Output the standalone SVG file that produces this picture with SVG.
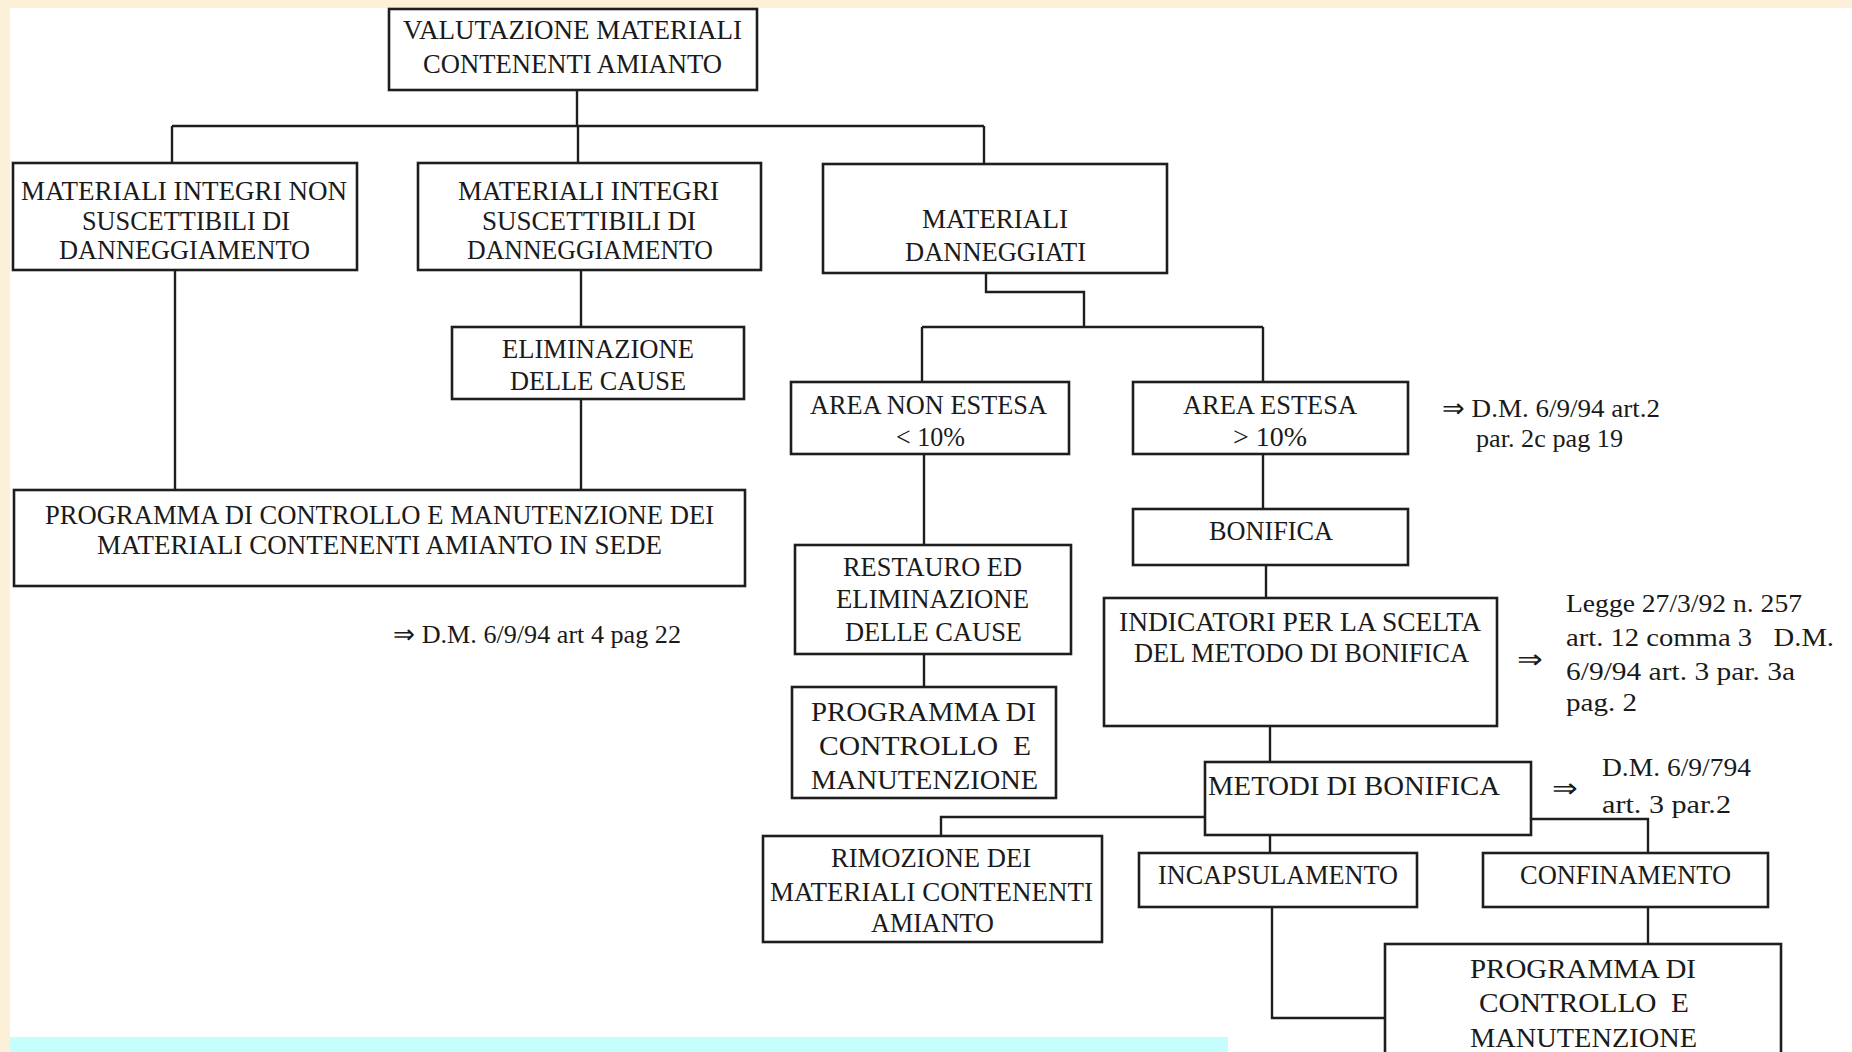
<svg xmlns="http://www.w3.org/2000/svg" width="1852" height="1052" viewBox="0 0 1852 1052">
<style>
.bx{fill:#ffffff;stroke:#1e1e1e;stroke-width:2.6}
.t{font-family:"Liberation Serif","Times New Roman",serif;font-size:28px;fill:#1a1a1a;white-space:pre}
.a{font-family:"Liberation Serif","Times New Roman",serif;font-size:26px;fill:#1a1a1a;white-space:pre}
.ln{fill:none;stroke:#1e1e1e;stroke-width:2.4}
</style>
<rect x="0" y="0" width="1852" height="1052" fill="#ffffff"/>
<rect x="0" y="0" width="1852" height="8" fill="#fcf0d8"/>
<rect x="0" y="0" width="10" height="1052" fill="#fcf0d8"/>
<rect x="10" y="1037" width="1218" height="15" fill="#c6fdfd"/>

<g id="connectors" class="ln">
<path d="M577,90 V126 M172,126 H984 M172,126 V163 M578,126 V163 M984,126 V164"/>
<path d="M175,270 V490"/>
<path d="M581,270 V327 M581,399 V490"/>
<path d="M986,273 V292 H1084 V327 M922,327 H1263 M922,327 V382 M1263,327 V382"/>
<path d="M1263,454 V509"/>
<path d="M924,454 V545 M924,654 V687"/>
<path d="M1266,565 V598"/>
<path d="M1270,726 V762"/>
<path d="M1205,817 H941 V836"/>
<path d="M1270,835 V853"/>
<path d="M1531,819 H1648 V853"/>
<path d="M1648,907 V944"/>
<path d="M1272,907 V1018 H1385"/>
</g>

<g id="n-valutazione">
<rect class="bx" x="389" y="9" width="368" height="81"/>
<text class="t" x="403" y="39" textLength="339" lengthAdjust="spacingAndGlyphs">VALUTAZIONE MATERIALI</text>
<text class="t" x="423" y="73" textLength="299" lengthAdjust="spacingAndGlyphs">CONTENENTI AMIANTO</text>
</g>

<g id="n-integri-non">
<rect class="bx" x="13" y="163" width="344" height="107"/>
<text class="t" x="21" y="200" textLength="326" lengthAdjust="spacingAndGlyphs">MATERIALI INTEGRI NON</text>
<text class="t" x="82" y="230" textLength="208" lengthAdjust="spacingAndGlyphs">SUSCETTIBILI DI</text>
<text class="t" x="59" y="259" textLength="251" lengthAdjust="spacingAndGlyphs">DANNEGGIAMENTO</text>
</g>

<g id="n-integri">
<rect class="bx" x="418" y="163" width="343" height="107"/>
<text class="t" x="458" y="200" textLength="261" lengthAdjust="spacingAndGlyphs">MATERIALI INTEGRI</text>
<text class="t" x="482" y="230" textLength="214" lengthAdjust="spacingAndGlyphs">SUSCETTIBILI DI</text>
<text class="t" x="467" y="259" textLength="246" lengthAdjust="spacingAndGlyphs">DANNEGGIAMENTO</text>
</g>

<g id="n-danneggiati">
<rect class="bx" x="823" y="164" width="344" height="109"/>
<text class="t" x="922" y="228" textLength="146" lengthAdjust="spacingAndGlyphs">MATERIALI</text>
<text class="t" x="905" y="261" textLength="181" lengthAdjust="spacingAndGlyphs">DANNEGGIATI</text>
</g>

<g id="n-eliminazione">
<rect class="bx" x="452" y="327" width="292" height="72"/>
<text class="t" x="502" y="358" textLength="192" lengthAdjust="spacingAndGlyphs">ELIMINAZIONE</text>
<text class="t" x="510" y="390" textLength="176" lengthAdjust="spacingAndGlyphs">DELLE CAUSE</text>
</g>

<g id="n-programma-sede">
<rect class="bx" x="14" y="490" width="731" height="96"/>
<text class="t" x="45" y="524" textLength="669" lengthAdjust="spacingAndGlyphs">PROGRAMMA DI CONTROLLO E MANUTENZIONE DEI</text>
<text class="t" x="97" y="554" textLength="565" lengthAdjust="spacingAndGlyphs">MATERIALI CONTENENTI AMIANTO IN SEDE</text>
</g>
<text class="a" x="393" y="643" textLength="288" lengthAdjust="spacingAndGlyphs">⇒ D.M. 6/9/94 art 4 pag 22</text>

<g id="n-area-non-estesa">
<rect class="bx" x="791" y="382" width="278" height="72"/>
<text class="t" x="810" y="414" textLength="237" lengthAdjust="spacingAndGlyphs">AREA NON ESTESA</text>
<text class="t" x="896" y="446" textLength="69" lengthAdjust="spacingAndGlyphs">&lt; 10%</text>
</g>

<g id="n-area-estesa">
<rect class="bx" x="1133" y="382" width="275" height="72"/>
<text class="t" x="1183" y="414" textLength="174" lengthAdjust="spacingAndGlyphs">AREA ESTESA</text>
<text class="t" x="1233" y="446" textLength="74" lengthAdjust="spacingAndGlyphs">&gt; 10%</text>
</g>
<text class="a" x="1442" y="417" textLength="218" lengthAdjust="spacingAndGlyphs">⇒ D.M. 6/9/94 art.2</text>
<text class="a" x="1476" y="447" textLength="147" lengthAdjust="spacingAndGlyphs">par. 2c pag 19</text>

<g id="n-bonifica">
<rect class="bx" x="1133" y="509" width="275" height="56"/>
<text class="t" x="1209" y="540" textLength="124" lengthAdjust="spacingAndGlyphs">BONIFICA</text>
</g>

<g id="n-restauro">
<rect class="bx" x="795" y="545" width="276" height="109"/>
<text class="t" x="843" y="576" textLength="179" lengthAdjust="spacingAndGlyphs">RESTAURO ED</text>
<text class="t" x="836" y="608" textLength="193" lengthAdjust="spacingAndGlyphs">ELIMINAZIONE</text>
<text class="t" x="845" y="641" textLength="177" lengthAdjust="spacingAndGlyphs">DELLE CAUSE</text>
</g>

<g id="n-programma-1">
<rect class="bx" x="792" y="687" width="264" height="111"/>
<text class="t" x="811" y="721" textLength="225" lengthAdjust="spacingAndGlyphs">PROGRAMMA DI</text>
<text class="t" x="819" y="755" textLength="212" lengthAdjust="spacingAndGlyphs">CONTROLLO  E</text>
<text class="t" x="811" y="789" textLength="227" lengthAdjust="spacingAndGlyphs">MANUTENZIONE</text>
</g>

<g id="n-indicatori">
<rect class="bx" x="1104" y="598" width="393" height="128"/>
<text class="t" x="1119" y="631" textLength="362" lengthAdjust="spacingAndGlyphs">INDICATORI PER LA SCELTA</text>
<text class="t" x="1134" y="662" textLength="335" lengthAdjust="spacingAndGlyphs">DEL METODO DI BONIFICA</text>
</g>
<text class="a" x="1517" y="668" textLength="26" lengthAdjust="spacingAndGlyphs">⇒</text>
<text class="a" x="1566" y="612" textLength="236" lengthAdjust="spacingAndGlyphs">Legge 27/3/92 n. 257</text>
<text class="a" x="1566" y="646" textLength="268" lengthAdjust="spacingAndGlyphs">art. 12 comma 3   D.M.</text>
<text class="a" x="1566" y="680" textLength="229" lengthAdjust="spacingAndGlyphs">6/9/94 art. 3 par. 3a</text>
<text class="a" x="1566" y="711" textLength="71" lengthAdjust="spacingAndGlyphs">pag. 2</text>

<g id="n-metodi">
<rect class="bx" x="1205" y="762" width="326" height="73"/>
<text class="t" x="1208" y="795" textLength="292" lengthAdjust="spacingAndGlyphs">METODI DI BONIFICA</text>
</g>
<text class="a" x="1552" y="797" textLength="26" lengthAdjust="spacingAndGlyphs">⇒</text>
<text class="a" x="1602" y="776" textLength="149" lengthAdjust="spacingAndGlyphs">D.M. 6/9/794</text>
<text class="a" x="1602" y="813" textLength="129" lengthAdjust="spacingAndGlyphs">art. 3 par.2</text>

<g id="n-rimozione">
<rect class="bx" x="763" y="836" width="339" height="106"/>
<text class="t" x="831" y="867" textLength="200" lengthAdjust="spacingAndGlyphs">RIMOZIONE DEI</text>
<text class="t" x="770" y="901" textLength="323" lengthAdjust="spacingAndGlyphs">MATERIALI CONTENENTI</text>
<text class="t" x="871" y="932" textLength="123" lengthAdjust="spacingAndGlyphs">AMIANTO</text>
</g>

<g id="n-incapsulamento">
<rect class="bx" x="1139" y="853" width="278" height="54"/>
<text class="t" x="1158" y="884" textLength="240" lengthAdjust="spacingAndGlyphs">INCAPSULAMENTO</text>
</g>

<g id="n-confinamento">
<rect class="bx" x="1483" y="853" width="285" height="54"/>
<text class="t" x="1520" y="884" textLength="211" lengthAdjust="spacingAndGlyphs">CONFINAMENTO</text>
</g>

<g id="n-programma-2">
<rect class="bx" x="1385" y="944" width="396" height="130"/>
<text class="t" x="1470" y="978" textLength="226" lengthAdjust="spacingAndGlyphs">PROGRAMMA DI</text>
<text class="t" x="1479" y="1012" textLength="210" lengthAdjust="spacingAndGlyphs">CONTROLLO  E</text>
<text class="t" x="1470" y="1047" textLength="227" lengthAdjust="spacingAndGlyphs">MANUTENZIONE</text>
</g>
</svg>
